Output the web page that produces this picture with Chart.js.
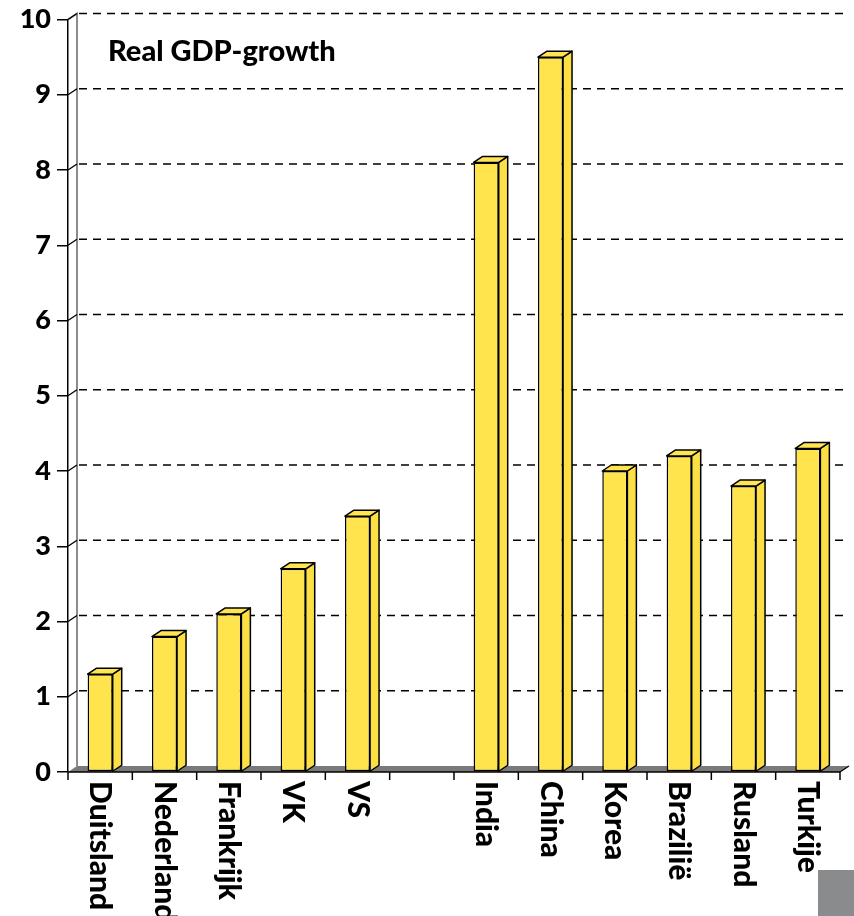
<!DOCTYPE html>
<html>
<head>
<meta charset="utf-8">
<script src="https://cdn.jsdelivr.net/npm/chart.js@4"></script>
<style>
  body { margin: 0; background: #fff; }
  #gdp-chart { display: block; }
</style>
</head>
<body>
<canvas id="gdp-chart" width="854" height="916"></canvas>
<script>
const categories = ["Duitsland", "Nederland", "Frankrijk", "VK", "VS", "", "India", "China", "Korea", "Brazilië", "Rusland", "Turkije"];
const growth = [1.3, 1.8, 2.1, 2.7, 3.4, null, 8.1, 9.5, 4.0, 4.2, 3.8, 4.3];
const y_ticks = [0, 1, 2, 3, 4, 5, 6, 7, 8, 9, 10];
const chart_title = "Real GDP-growth";

const font_family = "Lato, 'Open Sans', sans-serif";
const depth_x = 9;
const depth_y = 6;

// back wall, dashed grid and floor, behind the bars
const wall_plugin = {
    id: "wall",
    beforeDatasetsDraw(chart) {
        const ctx = chart.ctx;
        const area = chart.chartArea;
        const y_scale = chart.scales.y;
        ctx.save();
        // floor
        const y0 = y_scale.getPixelForValue(0);
        ctx.fillStyle = "#7a7a7a";
        ctx.beginPath();
        ctx.moveTo(area.left, y0);
        ctx.lineTo(area.right, y0);
        ctx.lineTo(area.right + depth_x, y0 - depth_y);
        ctx.lineTo(area.left + depth_x, y0 - depth_y);
        ctx.closePath();
        ctx.fill();
        ctx.strokeStyle = "#000";
        ctx.lineWidth = 1.2;
        ctx.beginPath();
        ctx.moveTo(area.right, y0);
        ctx.lineTo(area.right + depth_x, y0 - depth_y);
        ctx.stroke();

        // back wall line
        const y_top = y_scale.getPixelForValue(10);
        ctx.strokeStyle = "#8c8c8c";
        ctx.lineWidth = 2;
        ctx.beginPath();
        ctx.moveTo(area.left, y_top);
        ctx.lineTo(area.left + depth_x, y_top - depth_y);
        ctx.lineTo(area.left + depth_x, y0 - depth_y);
        ctx.stroke();

        // grid lines
        y_ticks.forEach((v) => {
            if (v === 0) return;
            const y = y_scale.getPixelForValue(v);
            ctx.strokeStyle = "#000";
            ctx.lineWidth = 1.3;
            ctx.setLineDash([]);
            ctx.beginPath();
            ctx.moveTo(area.left, y);
            ctx.lineTo(area.left + depth_x, y - depth_y);
            ctx.stroke();
            ctx.setLineDash([8, 6]);
            ctx.beginPath();
            ctx.moveTo(area.left + depth_x + 2, y - depth_y);
            ctx.lineTo(area.right + depth_x, y - depth_y);
            ctx.stroke();
        });
        ctx.restore();
    }
};

// 3d side/top faces, x axis, labels, title
const front_plugin = {
    id: "front",
    afterDatasetsDraw(chart) {
        const ctx = chart.ctx;
        const area = chart.chartArea;
        const x_scale = chart.scales.x;
        const y_scale = chart.scales.y;
        const bars = chart.getDatasetMeta(0).data;
        ctx.save();
        ctx.strokeStyle = "#000";
        ctx.lineWidth = 1.5;
        ctx.lineJoin = "round";
        bars.forEach((bar, i) => {
            if (growth[i] === null) return;
            const left = bar.x - bar.width / 2;
            const right = bar.x + bar.width / 2;
            const top = bar.y;
            const base = bar.base;
            // side
            ctx.fillStyle = "#fbdf45";
            ctx.beginPath();
            ctx.moveTo(right, top);
            ctx.lineTo(right + depth_x, top - depth_y);
            ctx.lineTo(right + depth_x, base - depth_y);
            ctx.lineTo(right, base);
            ctx.closePath();
            ctx.fill();
            ctx.stroke();
            // top
            ctx.fillStyle = "#ffe650";
            ctx.beginPath();
            ctx.moveTo(left, top);
            ctx.lineTo(left + depth_x, top - depth_y);
            ctx.lineTo(right + depth_x, top - depth_y);
            ctx.lineTo(right, top);
            ctx.closePath();
            ctx.fill();
            ctx.stroke();
        });

        // x axis line and ticks at category boundaries
        const y0 = y_scale.getPixelForValue(0);
        ctx.lineWidth = 1.5;
        ctx.beginPath();
        ctx.moveTo(area.left, y0);
        ctx.lineTo(area.right, y0);
        ctx.stroke();
        const step = x_scale.getPixelForValue(1) - x_scale.getPixelForValue(0);
        for (let i = 0; i <= categories.length; i++) {
            const x = x_scale.getPixelForValue(0) - step / 2 + i * step;
            ctx.beginPath();
            ctx.moveTo(x, y0);
            ctx.lineTo(x, y0 + 8);
            ctx.stroke();
        }

        // rotated category labels
        ctx.fillStyle = "#000";
        ctx.font = "900 30px " + font_family;
        ctx.textAlign = "left";
        ctx.textBaseline = "middle";
        categories.forEach((label, i) => {
            if (!label) return;
            const x = x_scale.getPixelForValue(i);
            ctx.save();
            ctx.translate(x, y0 + 9);
            ctx.rotate(Math.PI / 2);
            ctx.fillText(label, 0, 0);
            ctx.restore();
        });

        // title
        ctx.font = "900 29px " + font_family;
        ctx.textBaseline = "alphabetic";
        ctx.fillText(chart_title, 108, 61);

        // grey box bottom right
        ctx.fillStyle = "#898b8d";
        ctx.fillRect(818, 870, 36, 46);
        ctx.restore();
    }
};

const chart_container = document.getElementById("gdp-chart").getContext("2d");
const gdp_chart = new Chart(chart_container, {
    type: "bar",
    data: {
        labels: categories,
        datasets: [{
            data: growth,
            backgroundColor: "#ffe44d",
            borderColor: "#000",
            borderWidth: 1.5,
            borderSkipped: false,
            barPercentage: 0.39,
            categoryPercentage: 1
        }]
    },
    options: {
        responsive: false,
        animation: false,
        layout: {
            padding: { left: 0, top: 17, right: 14, bottom: 144 }
        },
        plugins: {
            legend: { display: false },
            tooltip: { enabled: false }
        },
        scales: {
            x: { display: false },
            y: {
                min: 0,
                max: 10,
                afterFit: (scale) => { scale.width = 68; },
                afterBuildTicks: (scale) => {
                    scale.ticks = y_ticks.map((v) => ({ value: v }));
                },
                border: { display: true, color: "#000", width: 1.5 },
                grid: {
                    drawOnChartArea: false,
                    drawTicks: true,
                    tickLength: 11,
                    color: "#000",
                    lineWidth: 1.5
                },
                ticks: {
                    color: "#000",
                    padding: 6,
                    font: { family: font_family, size: 27, weight: "900", lineHeight: 1 }
                }
            }
        }
    },
    plugins: [wall_plugin, front_plugin]
});
</script>
</body>
</html>
